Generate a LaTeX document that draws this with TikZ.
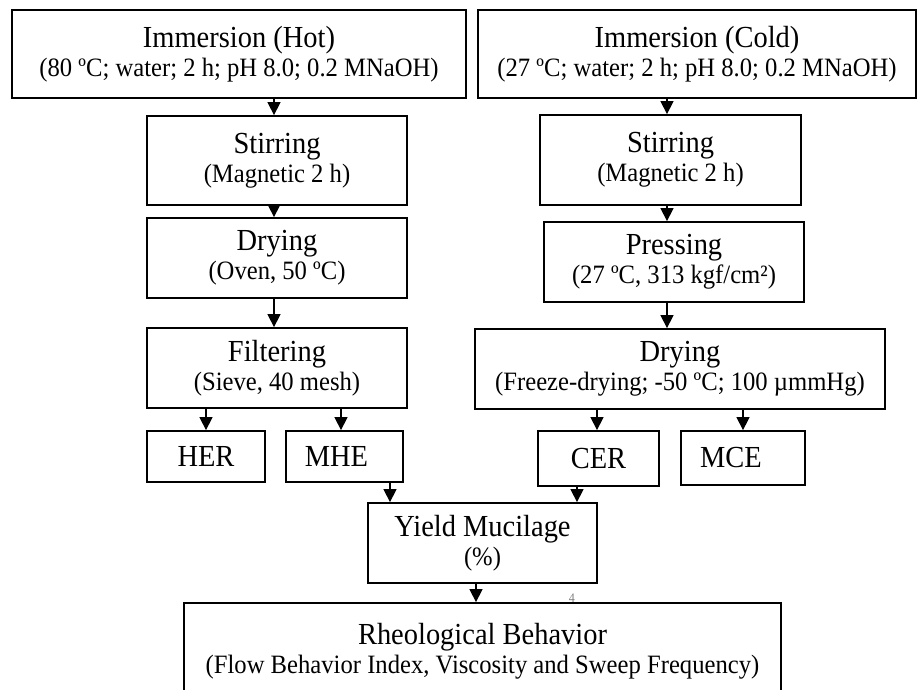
\documentclass[tikz,border=0pt]{standalone}
\usepackage{fontspec}
\setmainfont{Liberation Serif}[FakeStretch=0.93]
\usetikzlibrary{arrows.meta}
\newcommand\boxtitle[1]{{\fontsize{30.6}{29}\selectfont #1}}
\begin{document}
\begin{tikzpicture}[x=1pt,y=-1pt,
  box/.style={draw, line width=1.8pt, rectangle, inner sep=0pt, align=center,
    font=\fontsize{26.5}{29}\selectfont},
  arr/.style={line width=1.4pt, -{Triangle[width=13pt,length=13pt]}}]
\useasboundingbox (0,0) rectangle (918,690);
\clip (0,0) rectangle (918,690);
% left column
\node[box, minimum width=454pt, minimum height=88pt] (hot) at (239,54)
  {\boxtitle{Immersion (Hot)}\\(80 ºC; water; 2 h; pH 8.0; 0.2 MNaOH)};
\node[box, minimum width=260pt, minimum height=89pt] (stirL) at (277,160.5)
  {\boxtitle{Stirring}\\(Magnetic 2 h)};
\node[box, minimum width=260pt, minimum height=80pt] (dryL) at (277,258)
  {\boxtitle{Drying}\\(Oven, 50 ºC)};
\node[box, minimum width=260pt, minimum height=80pt] (filt) at (277,368)
  {\boxtitle{Filtering}\\(Sieve, 40 mesh)};
\node[box, minimum width=118pt, minimum height=51pt] (her) at (206,456.5)
  {\boxtitle{HER}};
\node[box, minimum width=117pt, minimum height=51pt] (mhe) at (344.5,456.5)
  {\boxtitle{MHE}\hspace{16pt}};
% right column
\node[box, minimum width=438pt, minimum height=88pt] (cold) at (697,54)
  {\boxtitle{Immersion (Cold)}\\(27 ºC; water; 2 h; pH 8.0; 0.2 MNaOH)};
\node[box, minimum width=261pt, minimum height=90pt] (stirR) at (670.5,160)
  {\boxtitle{Stirring}\\(Magnetic 2 h)};
\node[box, minimum width=260pt, minimum height=80pt] (press) at (674,262)
  {\boxtitle{Pressing}\\(27 ºC, 313 kgf/cm²)};
\node[box, minimum width=410pt, minimum height=80pt] (dryR) at (680,369)
  {\boxtitle{Drying}\\(Freeze-drying; -50 ºC; 100 µmmHg)};
\node[box, minimum width=121pt, minimum height=55pt] (cer) at (598.5,458.5)
  {\boxtitle{CER}};
\node[box, minimum width=124pt, minimum height=54pt] (mce) at (743,458)
  {\boxtitle{MCE}\hspace{24pt}};
% bottom
\node[box, minimum width=229pt, minimum height=80pt] (yield) at (482.5,543)
  {\boxtitle{Yield Mucilage}\\(\%)};
\node[box, minimum width=597pt, minimum height=96pt] (rheo) at (482.5,651)
  {\boxtitle{Rheological Behavior}\\(Flow Behavior Index, Viscosity and Sweep Frequency)};
\node[text=black!50, font=\fontsize{13}{13}\selectfont, inner sep=0pt, anchor=base] (mark4) at (572,602) {4};
% arrow columns
\coordinate (cL) at (274,0);
\coordinate (cR) at (667,0);
\coordinate (cHer) at (206,0);
\coordinate (cMhe) at (341,0);
\coordinate (cCer) at (597,0);
\coordinate (cMce) at (743,0);
\coordinate (cY1) at (390,0);
\coordinate (cY2) at (577,0);
\coordinate (cY3) at (476,0);
% arrows
\draw[arr] (hot.south -| cL) -- (stirL.north -| cL);
\draw[arr] (stirL.south -| cL) -- (dryL.north -| cL);
\draw[arr] (dryL.south -| cL) -- (filt.north -| cL);
\draw[arr] (filt.south -| cHer) -- (her.north -| cHer);
\draw[arr] (filt.south -| cMhe) -- (mhe.north -| cMhe);
\draw[arr] (cold.south -| cR) -- (stirR.north -| cR);
\draw[arr] (stirR.south -| cR) -- (press.north -| cR);
\draw[arr] (press.south -| cR) -- (dryR.north -| cR);
\draw[arr] (dryR.south -| cCer) -- (cer.north -| cCer);
\draw[arr] (dryR.south -| cMce) -- (mce.north -| cMce);
\draw[arr] (mhe.south -| cY1) -- (yield.north -| cY1);
\draw[arr] (cer.south -| cY2) -- (yield.north -| cY2);
\draw[arr] (yield.south -| cY3) -- (rheo.north -| cY3);
\end{tikzpicture}
\end{document}
